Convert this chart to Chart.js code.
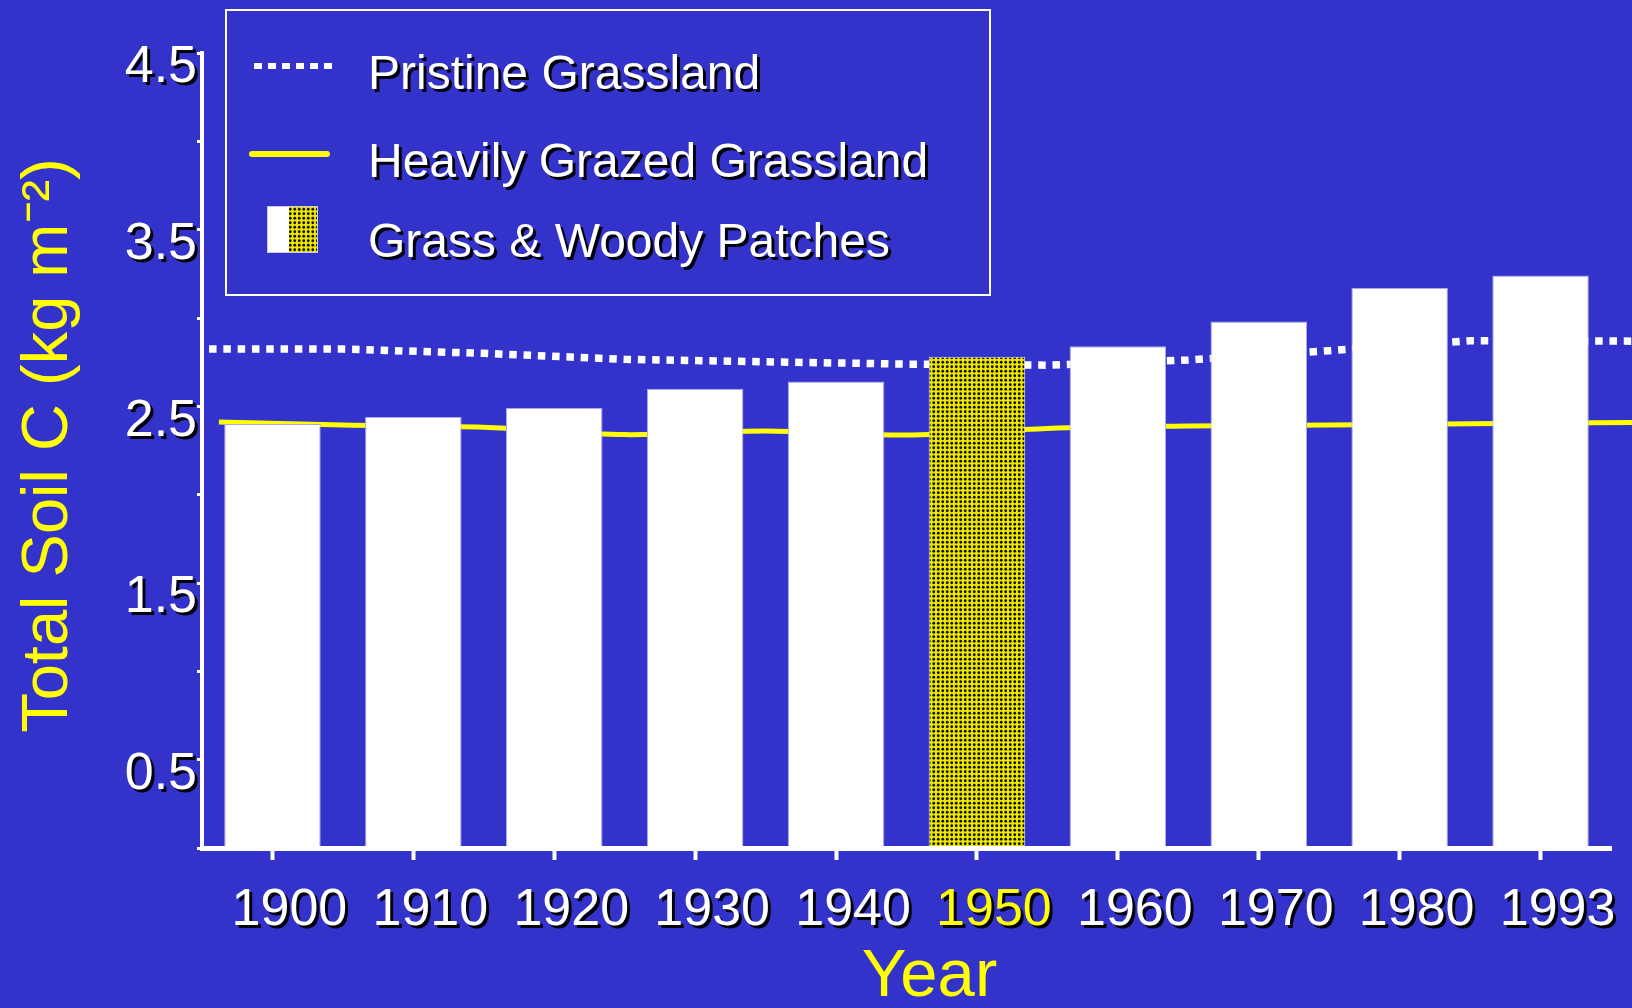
<!DOCTYPE html>
<html>
<head>
<meta charset="utf-8">
<script src="https://cdn.jsdelivr.net/npm/chart.js@4.4.1/dist/chart.umd.min.js"></script>
<style>
  html, body { margin: 0; padding: 0; background: #3333cc; }
  #wrap { width: 1632px; height: 1008px; position: relative; }
</style>
</head>
<body>
<div id="wrap"><canvas id="c"></canvas></div>
<script>
// ---- data ----
const years = ['1900', '1910', '1920', '1930', '1940', '1950', '1960', '1970', '1980', '1993'];
const patchValues = [2.40, 2.44, 2.49, 2.60, 2.64, 2.78, 2.84, 2.98, 3.17, 3.24];
const highlightYear = '1950';

// line traces, position measured along the year axis in category steps (0 = 1900 ... 9 = 1993)
const pristinePos    = [-0.45, 0.5, 1.5, 2.5, 3.5, 4.5, 5.5, 6.5, 7.5, 8.5, 9.7];
const pristineValues = [2.824, 2.824, 2.80, 2.766, 2.752, 2.739, 2.733, 2.762, 2.815, 2.871, 2.869];
const grazedPos      = [-0.38, 0.5, 1.5, 2.5, 3.5, 4.5, 5.5, 6.5, 7.5, 8.5, 9.7];
const grazedValues   = [2.412, 2.394, 2.381, 2.340, 2.361, 2.338, 2.375, 2.388, 2.394, 2.401, 2.409];

const yTickLabels = ['0.5', '1.5', '2.5', '3.5', '4.5'];
const seriesNames = ['Grass & Woody Patches', 'Pristine Grassland', 'Heavily Grazed Grassland'];
const yTitle = 'Total Soil C (kg m\u207B\u00B2)';
const xTitle = 'Year';

// ---- styling ----
const YELLOW = '#ffff00';
const WHITE = '#ffffff';
const FONT = "'Liberation Sans', Arial, Helvetica, sans-serif";
Chart.defaults.font.family = FONT;

function makePattern() {
  const t = document.createElement('canvas');
  t.width = 9; t.height = 9;
  const g = t.getContext('2d');
  g.fillStyle = '#eee800';
  g.fillRect(0, 0, 9, 9);
  g.fillStyle = '#141400';
  [[2.25, 2.25], [6.75, 2.25], [2.25, 6.75], [6.75, 6.75]].forEach(p => {
    g.beginPath(); g.arc(p[0], p[1], 1.4, 0, Math.PI * 2); g.fill();
  });
  return g.createPattern(t, 'repeat');
}
const dotPattern = makePattern();
const hiIndex = years.indexOf(highlightYear);

const shadowPlugin = {
  id: 'textShadow',
  afterLayout(chart) {
    // nudge the axis titles to where the reference places them
    const shifts = { x: [23, 0], y: [0, -5] };
    Object.keys(shifts).forEach(id => {
      const s = chart.scales[id];
      if (s && !s._nudged) {
        const orig = s.drawTitle;
        const d = shifts[id];
        s.drawTitle = function () {
          this.ctx.save(); this.ctx.translate(d[0], d[1]); orig.call(this); this.ctx.restore();
        };
        s._nudged = true;
      }
    });
  },
  beforeDraw(chart) {
    const c = chart.ctx;
    c.shadowColor = 'rgba(0,0,0,0.95)';
    c.shadowOffsetX = 3; c.shadowOffsetY = 3; c.shadowBlur = 0;
  },
  beforeDatasetsDraw(chart) {
    const c = chart.ctx;
    c.shadowColor = 'rgba(0,0,0,0)';
    c.shadowOffsetX = 0; c.shadowOffsetY = 0;
  }
};

const boxLegend = {
  id: 'boxLegend',
  afterDraw(chart) {
    const c = chart.ctx;
    const ds = chart.data.datasets;
    c.save();
    c.shadowColor = 'rgba(0,0,0,0)';
    c.strokeStyle = WHITE; c.lineWidth = 2;
    c.strokeRect(226, 10, 764, 285);
    // pristine symbol
    c.strokeStyle = ds[1].borderColor; c.lineWidth = 6; c.setLineDash([8, 6]); c.lineCap = 'butt';
    c.beginPath(); c.moveTo(254, 66); c.lineTo(332, 66); c.stroke();
    // grazed symbol
    c.setLineDash([]); c.strokeStyle = ds[2].borderColor; c.lineCap = 'round';
    c.beginPath(); c.moveTo(252, 154); c.lineTo(327, 154); c.stroke();
    // patches symbol
    c.fillStyle = WHITE; c.fillRect(267, 206, 22, 47);
    c.fillStyle = dotPattern; c.fillRect(289, 206, 29, 47);
    c.strokeStyle = '#c8c8f0'; c.lineWidth = 1; c.strokeRect(267.5, 206.5, 50, 46);
    // texts
    c.font = '48px ' + FONT;
    c.fillStyle = WHITE; c.textBaseline = 'middle'; c.textAlign = 'left';
    c.shadowColor = 'rgba(0,0,0,0.95)'; c.shadowOffsetX = 3; c.shadowOffsetY = 3;
    c.fillText(ds[1].label, 368, 76);
    c.fillText(ds[2].label, 368, 164);
    c.fillText(ds[0].label, 368, 244);
    c.restore();
  }
};

new Chart(document.getElementById('c'), {
  type: 'bar',
  data: {
    labels: years,
    datasets: [
      {
        label: seriesNames[0],
        data: patchValues,
        xAxisID: 'x',
        order: 0,
        grouped: false,
        backgroundColor: ctx => ctx.dataIndex === hiIndex ? dotPattern : WHITE,
        borderColor: ctx => ctx.dataIndex === hiIndex ? '#e8e8ff' : '#a8a8ee',
        borderWidth: 1,
        borderSkipped: 'start',
        barPercentage: 0.685,
        categoryPercentage: 1.0
      },
      {
        type: 'line',
        label: seriesNames[1],
        data: pristinePos.map((p, i) => ({ x: p, y: pristineValues[i] })),
        xAxisID: 'xl',
        order: 2,
        borderColor: WHITE,
        borderWidth: 7.5,
        borderDash: [7.5, 6.8],
        borderCapStyle: 'butt',
        pointRadius: 0,
        tension: 0,
        fill: false,
        clip: false
      },
      {
        type: 'line',
        label: seriesNames[2],
        data: grazedPos.map((p, i) => ({ x: p, y: grazedValues[i] })),
        xAxisID: 'xl',
        order: 1,
        borderColor: YELLOW,
        borderWidth: 5,
        pointRadius: 0,
        tension: 0.3,
        fill: false,
        clip: false
      }
    ]
  },
  options: {
    responsive: true,
    maintainAspectRatio: false,
    animation: false,
    devicePixelRatio: 1,
    layout: { padding: { left: 0, top: 53, right: 21, bottom: 0 } },
    plugins: {
      legend: { display: false },
      tooltip: { enabled: false },
      title: { display: false }
    },
    scales: {
      x: {
        type: 'category',
        position: 'bottom',
        offset: true,
        afterFit: s => { s.height = 160; },
        grid: { display: true, drawOnChartArea: false, drawTicks: true, tickLength: 12, tickWidth: 4, tickColor: WHITE, offset: false, z: 1 },
        border: { display: true, color: WHITE, width: 5, z: 1 },
        ticks: {
          color: ctx => ctx.index === hiIndex ? YELLOW : WHITE,
          font: { size: 52 },
          padding: 19,
          labelOffset: 17,
          maxRotation: 0,
          autoSkip: false
        },
        title: { display: true, text: xTitle, color: YELLOW, font: { size: 67, lineHeight: 1 }, padding: { top: 0, bottom: -3.5 } }
      },
      xl: {
        type: 'linear',
        display: false,
        offset: false,
        grid: { offset: false },
        min: -0.5,
        max: 9.5
      },
      y: {
        type: 'linear',
        position: 'left',
        min: 0,
        max: 4.5,
        afterFit: s => { s.width = 202; },
        grid: { display: true, drawOnChartArea: false, drawTicks: true, tickLength: 5, tickWidth: 3, tickColor: WHITE, z: 1 },
        border: { display: true, color: WHITE, width: 4, z: 1 },
        ticks: {
          stepSize: 0.5,
          color: WHITE,
          font: { size: 52 },
          padding: 0,
          labelOffset: 15,
          callback: v => { const s = Number(v).toFixed(1); return yTickLabels.includes(s) ? s : ''; }
        },
        title: { display: true, text: yTitle, color: YELLOW, font: { size: 65, lineHeight: 1 }, padding: { top: 17, bottom: 0 } }
      }
    }
  },
  plugins: [shadowPlugin, boxLegend]
});
</script>
</body>
</html>
